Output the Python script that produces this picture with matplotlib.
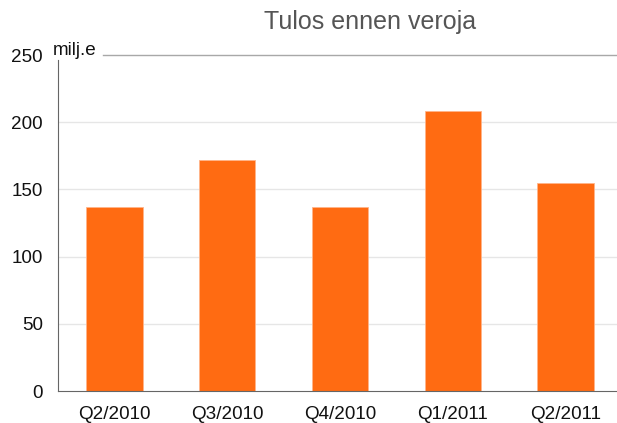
import matplotlib
matplotlib.use("Agg")
import matplotlib.pyplot as plt

plt.rcParams['font.family'] = ['Liberation Sans', 'DejaVu Sans']

# data
quarters = ["Q2/2010", "Q3/2010", "Q4/2010", "Q1/2011", "Q2/2011"]
profit = [137.1, 172.1, 136.7, 208.1, 154.5]
yticks = [0, 50, 100, 150, 200, 250]

W, H = 617, 423
fig = plt.figure(figsize=(W / 100, H / 100), dpi=100)
ax = fig.add_axes([58 / W, 32 / H, (W - 58) / W, 336 / H])

x = list(range(len(quarters)))
ax.bar(x, profit, width=0.5, color="#FF6B12", edgecolor="#FFB58A", linewidth=0.6, zorder=3)

ax.set_xlim(-0.5, 4.455)
ax.set_ylim(0, 250)
ax.set_yticks(yticks)
ax.set_xticks(x)
ax.set_xticklabels(quarters)
ax.tick_params(axis="both", length=0, labelsize=13.6, colors="#111111")
ax.tick_params(axis="y", pad=11)
ax.tick_params(axis="x", pad=11)

# light grid lines, top one darker and shortened for the unit label
for v in yticks[1:-1]:
    ax.axhline(v, color="#E6E6E6", linewidth=1, zorder=1)
ax.axhline(250, xmin=0.08, color="#A8A8A8", linewidth=1, zorder=1, clip_on=False)

for s in ["top", "right"]:
    ax.spines[s].set_visible(False)
ax.spines["left"].set_bounds(0, 246)
ax.spines["left"].set_color("#666666")
ax.spines["bottom"].set_color("#666666")
ax.spines["left"].set_zorder(4)
ax.spines["bottom"].set_zorder(4)

fig.text(53 / W, 1 - 55 / H, "milj.e", fontsize=13.6, color="#111111", ha="left", va="baseline")
fig.text(370 / W, 1 - 22 / H, "Tulos ennen veroja", fontsize=18, color="#555555",
         ha="center", va="center")

fig.savefig("out.png", dpi=100)
